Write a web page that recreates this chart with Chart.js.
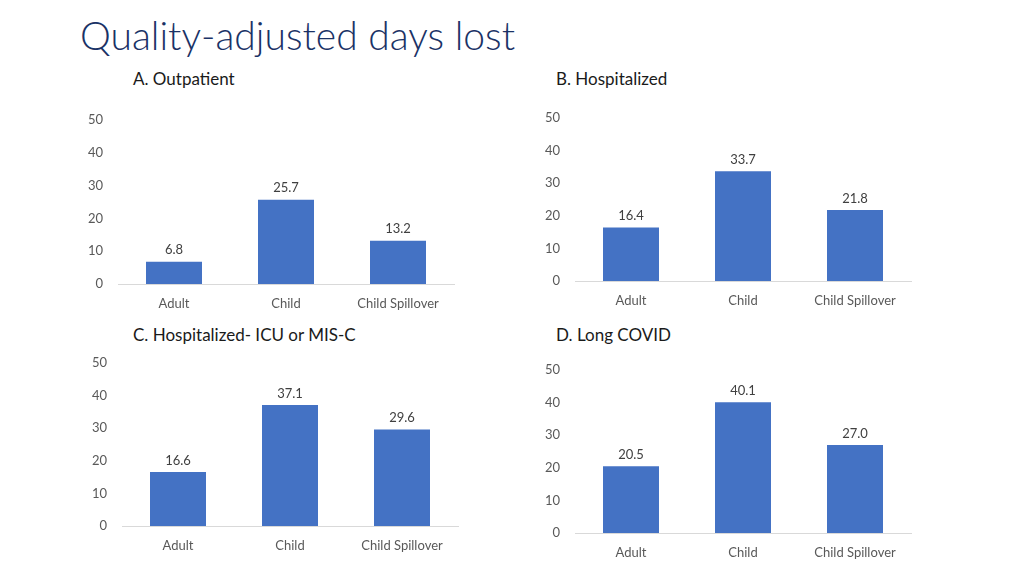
<!DOCTYPE html>
<html>
<head>
<meta charset="utf-8">
<script src="https://cdn.jsdelivr.net/npm/chart.js@4"></script>
<style>
  body { margin: 0; width: 1024px; height: 576px; background: #fff; position: relative; overflow: hidden; font-family: Lato, sans-serif; }
  h1 { position: absolute; left: 80px; top: 11px; margin: 0; font-size: 39px; font-weight: 300; color: #1a3266; line-height: 48px; }
  .sub { position: absolute; font-size: 17px; color: #1a1a1a; line-height: 20px; }
  canvas { position: absolute; }
</style>
</head>
<body>
<h1>Quality-adjusted days lost</h1>
<div class="sub" style="left:133px; top:69px;">A. Outpatient</div>
<div class="sub" style="left:556px; top:69px;">B. Hospitalized</div>
<div class="sub" style="left:133px; top:325px;">C. Hospitalized- ICU or MIS-C</div>
<div class="sub" style="left:556px; top:325px;">D. Long COVID</div>
<canvas id="chartA" width="380" height="215" style="left:80px; top:105px;"></canvas>
<canvas id="chartB" width="390" height="214" style="left:530px; top:103px;"></canvas>
<canvas id="chartC" width="390" height="214" style="left:80px; top:348px;"></canvas>
<canvas id="chartD" width="390" height="214" style="left:530px; top:355px;"></canvas>
<script>
const categories = ["Adult", "Child", "Child Spillover"];
const outpatient = [6.8, 25.7, 13.2];
const hospitalized = [16.4, 33.7, 21.8];
const icuMisc = [16.6, 37.1, 29.6];
const longCovid = [20.5, 40.1, 27.0];
const yTicks = [0, 10, 20, 30, 40, 50];

// value labels above each bar
const barLabels = {
  id: "barLabels",
  afterDatasetsDraw(chart) {
    const ctx = chart.ctx;
    const meta = chart.getDatasetMeta(0);
    ctx.save();
    ctx.font = "13px Lato, sans-serif";
    ctx.fillStyle = "#404040";
    ctx.textAlign = "center";
    ctx.textBaseline = "bottom";
    meta.data.forEach((bar, i) => {
      ctx.fillText(chart.data.datasets[0].data[i].toFixed(1), bar.x, bar.y - 5);
    });
    ctx.restore();
  }
};

const makeChart = (id, values, yWidth, rightPad) => {
  new Chart(document.getElementById(id), {
    type: "bar",
    data: {
      labels: categories,
      datasets: [{
        data: values,
        backgroundColor: "#4472c4",
        barPercentage: 0.5,
        categoryPercentage: 1
      }]
    },
    options: {
      responsive: false,
      animation: false,
      layout: { padding: { top: 15, right: rightPad, left: 0, bottom: 0 } },
      plugins: { legend: { display: false }, tooltip: { enabled: false } },
      scales: {
        x: {
          grid: { display: false, drawTicks: false },
          border: { display: true, color: "#d9d9d9", width: 1 },
          ticks: { color: "#595959", font: { family: "Lato", size: 13 }, padding: 12, maxRotation: 0 },
          afterFit: (s) => { s.height = 36; }
        },
        y: {
          min: yTicks[0],
          max: yTicks[yTicks.length - 1],
          grid: { display: false, drawTicks: false },
          border: { display: false },
          ticks: { stepSize: 10, color: "#595959", font: { family: "Lato", size: 13 }, padding: 15 },
          // fixed axis width, and no extra top/bottom room from the tick padding
          afterFit: (s) => { s.width = yWidth; s.paddingTop = 0; s.paddingBottom = 0; }
        }
      }
    },
    plugins: [barLabels]
  });
};

makeChart("chartA", outpatient, 38, 6);
makeChart("chartB", hospitalized, 45, 9);
makeChart("chartC", icuMisc, 42, 12);
makeChart("chartD", longCovid, 45, 9);
</script>
</body>
</html>
